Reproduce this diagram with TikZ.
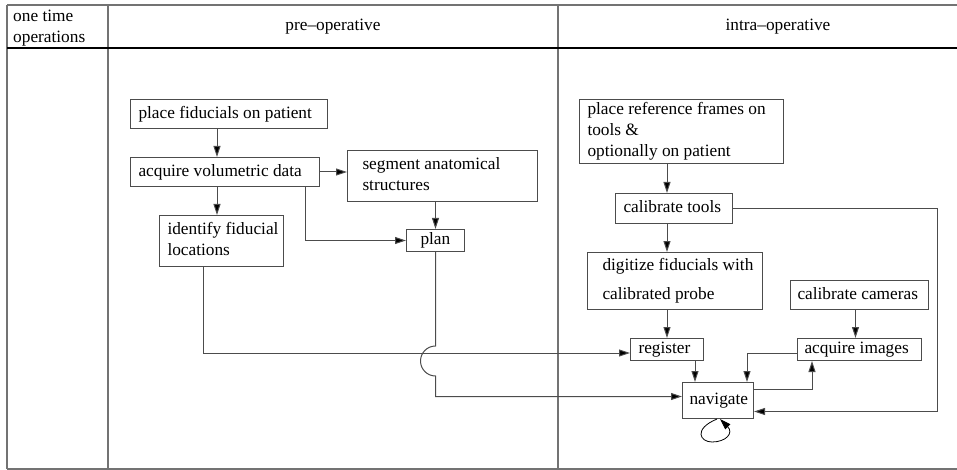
\documentclass[tikz,border=0pt]{standalone}
\usepackage{fontspec}
\setmainfont{Liberation Serif}
\usetikzlibrary{arrows.meta}

\definecolor{framegray}{gray}{0.45}
\definecolor{wiregray}{gray}{0.3}
\newcommand\boxfont{\fontsize{17.3}{21}\selectfont}

\tikzset{
  stepbox/.style={draw=wiregray, line width=1pt, inner sep=0pt, font=\boxfont},
  wire/.style={draw=wiregray, line width=1pt,
               -{Triangle[length=11pt,width=7pt,fill=black]}},
  frameline/.style={draw=framegray, line width=1.2pt},
  headline/.style={draw=black, line width=1.3pt},
  headtext/.style={font=\boxfont, inner sep=0pt},
}

% box from corner (#2,#3) to (#4,#5), text indented by #6
\newcommand\flowbox[7]{%
  \pgfmathsetmacro\flowW{#4-#2}%
  \pgfmathsetmacro\flowH{#5-#3}%
  \pgfmathsetmacro\flowT{#4-#2-#6}%
  \node[stepbox, minimum width=\flowW pt, minimum height=\flowH pt,
        anchor=north west] (#1) at (#2,#3)
        {\hspace*{#6pt}\parbox{\flowT pt}{\raggedright\strut #7\strut}};%
}

\begin{document}
\begin{tikzpicture}[x=1pt, y=-1pt]
\useasboundingbox (0,0) rectangle (957,470);

% table frame
\draw[frameline] (7,5) -- (957,5);
\draw[frameline] (7,469) -- (957,469);
\draw[frameline] (7,5) -- (7,469);
\draw[frameline] (108,5) -- (108,469);
\draw[frameline] (558,5) -- (558,469);
\draw[headline] (7,48) -- (957,48);

% column headings
\node[headtext, anchor=north west, align=left] (hdonce) at (13,10) {one time\\operations};
\node[headtext] (hdpre) at (333,27) {pre--operative};
\node[headtext] (hdintra) at (778,27) {intra--operative};

% pre-operative steps
\flowbox{pf}{130}{99}{327}{128}{8}{place fiducials on patient}
\flowbox{av}{130}{157}{319}{186}{8}{acquire volumetric data}
\flowbox{seg}{347}{150}{537}{201}{15}{segment anatomical\\structures}
\flowbox{idf}{159}{215}{283}{266}{8}{identify fiducial\\locations}
\flowbox{plan}{406}{229}{464}{251}{14}{plan}

% intra-operative steps
\flowbox{prf}{579}{99}{783}{163}{8}{place reference frames on\\tools \&\\optionally on patient}
\flowbox{ct}{615}{193}{732}{223}{8}{calibrate tools}
\flowbox{dig}{587}{252}{762}{309}{15}{digitize fiducials with\\[8pt]calibrated probe}
\flowbox{cc}{790}{280}{928}{309}{7}{calibrate cameras}
\flowbox{reg}{630}{338}{703}{360}{8}{register}
\flowbox{ai}{797}{338}{921}{360}{7}{acquire images}
\flowbox{nav}{682}{382}{753}{418}{7}{navigate}

% pre-operative connectors
\draw[wire] ([xshift=87pt]pf.south west) -- ([xshift=87pt]av.north west);
\draw[wire] ([xshift=87pt]av.south west) -- ([xshift=87pt]av.south west |- idf.north);
\draw[wire] (av.east) -- (av.east -| seg.west);
\draw[wire] ([xshift=-15pt]av.south east) |- (plan.west);
\draw[wire] (seg.south -| plan.north) -- (plan.north);
\draw[wire] ([xshift=44pt]idf.south west) |- ([yshift=-3.5pt]reg.west);
\draw[wire] (plan.south) -- ++(0,94)
  arc[start angle=90, end angle=270, radius=15pt]
  |- ([yshift=4pt]nav.west);

% intra-operative connectors
\draw[wire] (prf.south -| reg.north) -- (ct.north -| reg.north);
\draw[wire] (ct.south -| reg.north) -- (dig.north -| reg.north);
\draw[wire] (dig.south -| reg.north) -- (reg.north);
\draw[wire] (ct.east) -- ++(204,0) |- ([yshift=-11pt]nav.east);
\draw[wire] ([xshift=-4pt]cc.south) -- ([xshift=-4pt]cc.south |- ai.north);
\draw[wire] ([xshift=65pt]reg.south west) -- ([xshift=65pt]reg.south west |- nav.north);
\draw[wire] ([yshift=-4pt]ai.west) -| ([xshift=-7pt]nav.north east);
\draw[wire] ([yshift=11pt]nav.east) -| ([xshift=15pt]ai.south west);

% repeated navigation
\draw[wire, draw=black, line width=0.8pt] ([xshift=-1pt]nav.south)
  .. controls +(-24,10) and +(-12,0) .. ++(-5,23)
  .. controls +(14,0) and +(14,14) .. ([xshift=2pt]nav.south);
\end{tikzpicture}
\end{document}
